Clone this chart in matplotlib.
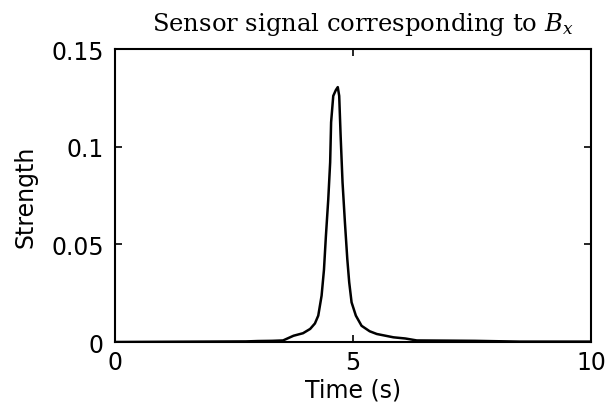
import matplotlib
matplotlib.use("Agg")
import matplotlib.pyplot as plt

plt.rcParams["mathtext.fontset"] = "dejavuserif"

# Data
time_s = [0.0, 2.75, 3.0, 3.3, 3.53, 3.75, 3.95, 4.1, 4.2, 4.27, 4.34, 4.39, 4.43, 4.48,
          4.52, 4.54, 4.585, 4.64, 4.68, 4.71, 4.74, 4.78, 4.83, 4.88, 4.92, 4.97,
          5.06, 5.18, 5.35, 5.5, 5.85, 6.1, 6.34, 7.0, 7.56, 8.5, 10.0]
strength = [0.0, 0.0003, 0.0005, 0.0006, 0.0008, 0.0032, 0.0045, 0.0067, 0.0095, 0.0135,
            0.0237, 0.037, 0.054, 0.073, 0.092, 0.1125, 0.126, 0.129, 0.1305, 0.126,
            0.1056, 0.0818, 0.0613, 0.0425, 0.0306, 0.0203, 0.0135, 0.0083, 0.0055,
            0.0041, 0.0024, 0.0018, 0.0008, 0.0007, 0.0006, 0.0002, 0.0002]

x_ticks = [0, 5, 10]
y_ticks = [0, 0.05, 0.1, 0.15]
y_tick_labels = ["0", "0.05", "0.1", "0.15"]

fig = plt.figure(figsize=(6.07, 4.10), dpi=100)
ax = fig.add_axes([0.1895, 0.1634, 0.7841, 0.7146])
ax.plot(time_s, strength, color="black", linewidth=1.8)
ax.set_xlim(0, 10)
ax.set_ylim(0, 0.15)
ax.set_xticks(x_ticks)
ax.set_xticklabels([str(v) for v in x_ticks])
ax.set_yticks(y_ticks)
ax.set_yticklabels(y_tick_labels)
ax.tick_params(direction="in", top=True, right=True, length=5, width=1.2,
               labelsize=17, colors="black")
ax.tick_params(axis="y", pad=8)
ax.tick_params(axis="x", pad=6)
for lab in ax.get_xticklabels() + ax.get_yticklabels():
    lab.set_family("DejaVu Sans")
for sp in ax.spines.values():
    sp.set_linewidth(1.5)
ax.set_xlabel("Time (s)", fontsize=17, family="DejaVu Sans", labelpad=2)
ax.set_ylabel("Strength", fontsize=17, family="DejaVu Sans", labelpad=10)
ax.set_title("Sensor signal corresponding to $B_x$", fontsize=17.5,
             family="DejaVu Serif", pad=14, x=0.52)
fig.savefig("out.png", dpi=100)
